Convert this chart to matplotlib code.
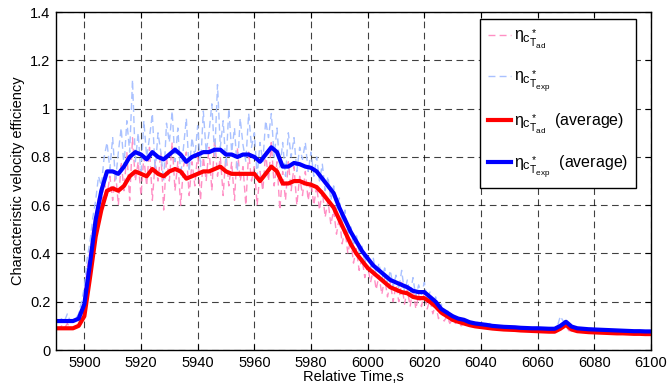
import numpy as np
import matplotlib
matplotlib.use("Agg")
import matplotlib.pyplot as plt
import matplotlib._mathtext as _mt
from matplotlib.lines import Line2D

plt.rcParams['font.family'] = ['Liberation Sans', 'DejaVu Sans']
plt.rcParams['mathtext.fontset'] = 'custom'
plt.rcParams['mathtext.rm'] = 'Liberation Sans'
plt.rcParams['mathtext.it'] = 'Liberation Sans'
plt.rcParams['mathtext.bf'] = 'Liberation Sans:bold'
# subíndices estilo MATLAB: se reducen menos que en TeX
_mt.SHRINK_FACTOR = 0.8

# ── datos crudos (1 s) ──
t_raw = np.arange(5890, 6101)
eta_exp_raw = [
    0.12, 0.12, 0.13, 0.12, 0.15, 0.12, 0.12, 0.13, 0.15, 0.20,
    0.26, 0.38, 0.45, 0.55, 0.62, 0.72, 0.68, 0.80, 0.86, 0.75,
    0.88, 0.70, 0.82, 0.92, 0.76, 0.95, 0.82, 1.12, 0.78, 0.90,
    0.72, 0.95, 0.80, 0.88, 0.98, 0.74, 0.90, 0.82, 0.70, 0.94,
    0.86, 0.99, 0.78, 0.92, 0.72, 0.84, 0.96, 0.74, 0.88, 0.80,
    0.93, 0.76, 0.99, 0.82, 0.90, 1.02, 0.80, 1.10, 0.84, 0.95,
    0.76, 1.00, 0.82, 0.92, 0.74, 0.96, 0.85, 0.78, 0.98, 0.84,
    0.90, 0.72, 0.86, 0.78, 0.95, 0.88, 0.98, 0.80, 0.92, 0.75,
    0.86, 0.72, 0.90, 0.80, 0.88, 0.74, 0.84, 0.79, 0.86, 0.74,
    0.82, 0.72, 0.80, 0.70, 0.77, 0.66, 0.72, 0.62, 0.68, 0.58,
    0.63, 0.52, 0.58, 0.47, 0.52, 0.43, 0.48, 0.40, 0.43, 0.36,
    0.40, 0.34, 0.38, 0.31, 0.36, 0.29, 0.34, 0.28, 0.33, 0.26,
    0.31, 0.25, 0.33, 0.24, 0.29, 0.23, 0.30, 0.22, 0.27, 0.23,
    0.28, 0.21, 0.24, 0.19, 0.22, 0.16, 0.19, 0.15, 0.17, 0.14,
    0.15, 0.13, 0.14, 0.12, 0.13, 0.12, 0.12, 0.11, 0.12, 0.11,
    0.11, 0.11, 0.10, 0.11, 0.10, 0.10, 0.10, 0.10, 0.10, 0.10,
    0.10, 0.09, 0.10, 0.09, 0.09, 0.09, 0.09, 0.09, 0.09, 0.09,
    0.09, 0.09, 0.09, 0.09, 0.09, 0.09, 0.09, 0.10, 0.14, 0.12,
    0.12, 0.10, 0.09, 0.09, 0.09, 0.09, 0.09, 0.09, 0.09, 0.09,
    0.08, 0.08, 0.08, 0.08, 0.08, 0.08, 0.08, 0.08, 0.08, 0.08,
    0.08, 0.08, 0.08, 0.08, 0.08, 0.08, 0.08, 0.08, 0.08, 0.08, 0.08,
]
eta_ad_raw = [
    0.09, 0.09, 0.10, 0.09, 0.11, 0.09, 0.09, 0.10, 0.11, 0.16,
    0.22, 0.34, 0.41, 0.50, 0.56, 0.63, 0.58, 0.70, 0.64, 0.72,
    0.62, 0.74, 0.60, 0.78, 0.66, 0.82, 0.62, 0.88, 0.70, 0.78,
    0.64, 0.80, 0.68, 0.84, 0.62, 0.78, 0.70, 0.82, 0.58, 0.80,
    0.70, 0.86, 0.66, 0.78, 0.60, 0.76, 0.82, 0.64, 0.78, 0.68,
    0.82, 0.62, 0.80, 0.70, 0.84, 0.66, 0.88, 0.72, 0.80, 0.64,
    0.82, 0.68, 0.78, 0.62, 0.84, 0.70, 0.76, 0.60, 0.82, 0.70,
    0.76, 0.60, 0.74, 0.66, 0.82, 0.70, 0.86, 0.68, 0.78, 0.58,
    0.74, 0.62, 0.78, 0.66, 0.76, 0.60, 0.72, 0.64, 0.74, 0.62,
    0.70, 0.60, 0.68, 0.58, 0.66, 0.55, 0.62, 0.52, 0.58, 0.48,
    0.55, 0.44, 0.50, 0.40, 0.46, 0.36, 0.42, 0.33, 0.38, 0.30,
    0.35, 0.28, 0.33, 0.25, 0.31, 0.23, 0.30, 0.22, 0.28, 0.20,
    0.27, 0.20, 0.28, 0.19, 0.25, 0.18, 0.26, 0.17, 0.23, 0.18,
    0.24, 0.17, 0.21, 0.15, 0.19, 0.13, 0.16, 0.12, 0.14, 0.11,
    0.13, 0.11, 0.12, 0.10, 0.11, 0.10, 0.10, 0.10, 0.10, 0.09,
    0.09, 0.10, 0.09, 0.09, 0.10, 0.09, 0.09, 0.09, 0.09, 0.09,
    0.09, 0.08, 0.09, 0.08, 0.08, 0.08, 0.08, 0.08, 0.08, 0.08,
    0.08, 0.08, 0.08, 0.08, 0.08, 0.08, 0.08, 0.08, 0.10, 0.11,
    0.10, 0.08, 0.08, 0.08, 0.08, 0.08, 0.08, 0.08, 0.08, 0.07,
    0.07, 0.07, 0.07, 0.07, 0.07, 0.07, 0.07, 0.07, 0.07, 0.07,
    0.07, 0.07, 0.07, 0.07, 0.07, 0.07, 0.07, 0.07, 0.07, 0.07, 0.07,
]

# ── promedios (2 s) ──
t_avg = np.arange(5890, 6101, 2)
eta_exp_avg = [
    0.12, 0.12, 0.12, 0.12, 0.13, 0.19, 0.36, 0.54, 0.66, 0.74,
    0.74, 0.73, 0.76, 0.80, 0.82, 0.81, 0.79, 0.82, 0.80, 0.79,
    0.81, 0.83, 0.81, 0.78, 0.80, 0.81, 0.82, 0.82, 0.83, 0.83,
    0.81, 0.81, 0.80, 0.81, 0.81, 0.80, 0.78, 0.81, 0.84, 0.82,
    0.76, 0.76, 0.775, 0.77, 0.76, 0.755, 0.74, 0.71, 0.68, 0.65,
    0.59, 0.54, 0.49, 0.45, 0.41, 0.38, 0.35, 0.33, 0.31, 0.29,
    0.28, 0.27, 0.26, 0.245, 0.24, 0.24, 0.22, 0.20, 0.17, 0.155,
    0.14, 0.13, 0.125, 0.115, 0.11, 0.107, 0.104, 0.10, 0.098, 0.096,
    0.095, 0.094, 0.092, 0.091, 0.090, 0.090, 0.089, 0.088, 0.088, 0.100,
    0.117, 0.097, 0.090, 0.088, 0.086, 0.085, 0.084, 0.083, 0.082, 0.081,
    0.080, 0.079, 0.078, 0.078, 0.077, 0.077,
]
eta_ad_avg = [
    0.09, 0.09, 0.09, 0.09, 0.10, 0.14, 0.30, 0.47, 0.58, 0.66,
    0.67, 0.66, 0.68, 0.72, 0.74, 0.73, 0.72, 0.75, 0.73, 0.72,
    0.74, 0.75, 0.74, 0.71, 0.72, 0.73, 0.74, 0.74, 0.75, 0.76,
    0.74, 0.73, 0.73, 0.73, 0.73, 0.73, 0.70, 0.73, 0.76, 0.74,
    0.69, 0.69, 0.70, 0.70, 0.69, 0.685, 0.675, 0.65, 0.62, 0.59,
    0.54, 0.49, 0.44, 0.40, 0.37, 0.34, 0.32, 0.30, 0.28, 0.26,
    0.25, 0.24, 0.235, 0.22, 0.215, 0.215, 0.20, 0.18, 0.155, 0.14,
    0.125, 0.117, 0.11, 0.103, 0.098, 0.095, 0.092, 0.089, 0.087, 0.085,
    0.084, 0.083, 0.081, 0.080, 0.079, 0.078, 0.077, 0.076, 0.076, 0.088,
    0.104, 0.085, 0.078, 0.076, 0.074, 0.073, 0.072, 0.071, 0.070, 0.069,
    0.069, 0.068, 0.067, 0.067, 0.066, 0.066,
]

COL_AD_RAW = '#ff8fc4'
COL_EXP_RAW = '#a9c1ff'


def main():
    fig = plt.figure(figsize=(6.7, 3.87), dpi=100)
    ax = fig.add_axes([0.0836, 0.0956, 0.888, 0.873])

    ax.plot(t_raw, eta_ad_raw, color=COL_AD_RAW, lw=1.0, ls=(0, (5, 3)))
    ax.plot(t_raw, eta_exp_raw, color=COL_EXP_RAW, lw=1.0, ls=(0, (5, 3)))
    ax.plot(t_avg, eta_ad_avg, color='#ff0000', lw=3.0, solid_joinstyle='round')
    ax.plot(t_avg, eta_exp_avg, color='#0000ff', lw=3.0, solid_joinstyle='round')

    ax.set_xlim(5890, 6100)
    ax.set_ylim(0, 1.4)
    ax.set_xticks(np.arange(5900, 6101, 20))
    ax.set_yticks([0, 0.2, 0.4, 0.6, 0.8, 1.0, 1.2, 1.4])
    ax.set_yticklabels(['0', '0.2', '0.4', '0.6', '0.8', '1', '1.2', '1.4'])
    ax.tick_params(direction='in', top=True, right=True, labelsize=10.5,
                   length=4, width=0.8, pad=4)
    ax.grid(True, color='black', ls=(0, (6, 4)), lw=0.8, alpha=0.75)
    for s in ax.spines.values():
        s.set_linewidth(1.0)

    ax.set_xlabel('Relative Time,s', fontsize=10.5, labelpad=0)
    ax.set_ylabel('Characteristic velocity efficiency', fontsize=10.5, labelpad=4)

    handles = [
        Line2D([], [], color=COL_AD_RAW, lw=1.0, ls=(0, (5, 3))),
        Line2D([], [], color=COL_EXP_RAW, lw=1.0, ls=(0, (5, 3))),
        Line2D([], [], color='#ff0000', lw=3.0),
        Line2D([], [], color='#0000ff', lw=3.0),
    ]
    labels = [
        r'$\eta_{c^*_{T_{ad}}}$',
        r'$\eta_{c^*_{T_{exp}}}$',
        r'$\eta_{c^*_{T_{ad}}}$  (average)',
        r'$\eta_{c^*_{T_{exp}}}$  (average)',
    ]
    leg = ax.legend(handles, labels, loc='upper right', fontsize=11.5,
                    bbox_to_anchor=(0.975, 0.979), borderaxespad=0,
                    frameon=True, fancybox=False,
                    framealpha=1, edgecolor='black', borderpad=0.5,
                    labelspacing=1.1, handlelength=1.4, handletextpad=0.2)
    leg.get_frame().set_linewidth(1.0)

    fig.savefig('out.png', dpi=100)
    plt.close(fig)


if __name__ == "__main__":
    main()
